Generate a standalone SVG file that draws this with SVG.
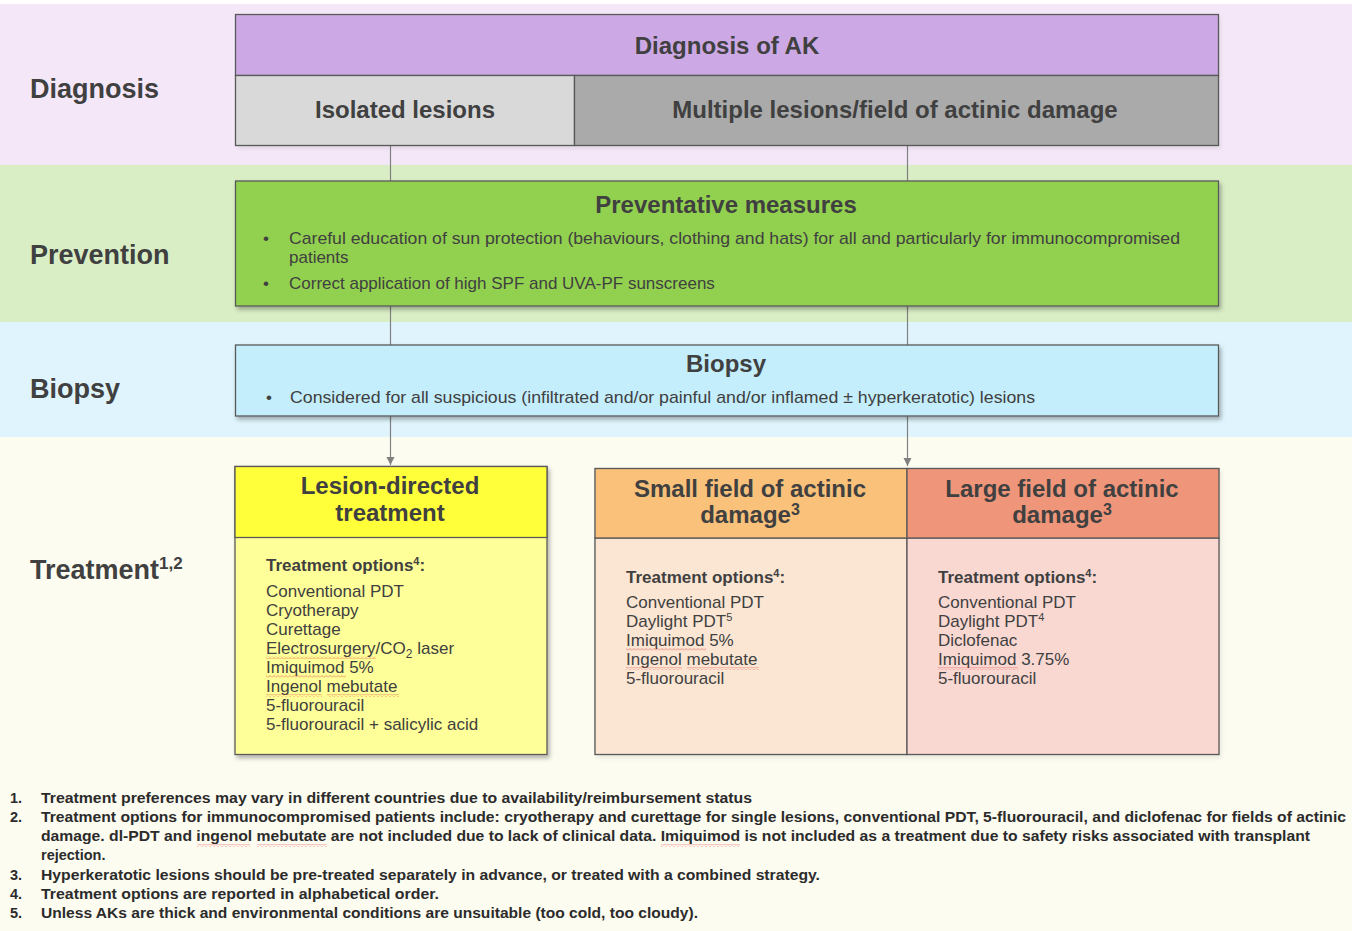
<svg xmlns="http://www.w3.org/2000/svg" width="1352" height="931" viewBox="0 0 1352 931">
<defs>
<style>
text{font-family:"Liberation Sans",Arial,sans-serif;fill:#404040}
.lbl{font-weight:bold;font-size:27px}
.hdr{font-weight:bold;font-size:24px;text-anchor:middle}
.body{font-size:17px}
.b{font-weight:bold}
.fn{font-size:14.5px;font-weight:bold;fill:#2b2b2b}
.box{stroke:#595959;stroke-width:1.3}
.conn{stroke:#808080;stroke-width:1.2;fill:none}
.sq{fill:url(#squig)}
</style>
<filter id="sh" x="-5%" y="-10%" width="110%" height="130%">
<feDropShadow dx="2" dy="3" stdDeviation="2" flood-color="#000" flood-opacity="0.3"/>
</filter>
<marker id="arrow" markerWidth="8" markerHeight="9" refX="8" refY="4" orient="auto" markerUnits="userSpaceOnUse">
<path d="M0,0 L8,4 L0,8 Z" fill="#808080"/>
</marker>
<pattern id="squig" width="4" height="3" patternUnits="userSpaceOnUse">
<path d="M0,2.5 L2,0.5 L4,2.5" stroke="#e04040" stroke-width="0.7" fill="none" opacity="0.8"/>
</pattern>
</defs>

<!-- bands -->
<g id="bands">
<rect x="0" y="0" width="1352" height="931" fill="#ffffff"/>
<rect x="0" y="4" width="1352" height="161" fill="#f4e8f8"/>
<rect x="0" y="165" width="1352" height="157" fill="#d9eec5"/>
<rect x="0" y="322" width="1352" height="115" fill="#dff4fc"/>
<rect x="0" y="437" width="1352" height="494" fill="#fdfcf1"/>
</g>

<g id="row-labels">
<text class="lbl" x="30" y="98">Diagnosis</text>
<text class="lbl" x="30" y="264">Prevention</text>
<text class="lbl" x="30" y="398">Biopsy</text>
<text class="lbl" x="30" y="579">Treatment<tspan font-size="17" dy="-10">1,2</tspan></text>
</g>

<!-- connectors -->
<g id="connectors">
<line class="conn" x1="390.5" y1="145" x2="390.5" y2="181"/>
<line class="conn" x1="907.5" y1="145" x2="907.5" y2="181"/>
<line class="conn" x1="390.5" y1="306" x2="390.5" y2="345"/>
<line class="conn" x1="907.5" y1="306" x2="907.5" y2="345"/>
<line class="conn" x1="390.5" y1="416" x2="390.5" y2="465" marker-end="url(#arrow)"/>
<line class="conn" x1="907.5" y1="416" x2="907.5" y2="466" marker-end="url(#arrow)"/>
</g>

<g id="diagnosis">
<rect x="235.5" y="14.5" width="983" height="131" fill="#000" filter="url(#sh)" opacity="0.25"/>
<rect class="box" x="235.5" y="14.5" width="983" height="61" fill="#cca9e4"/>
<text class="hdr" x="727" y="54">Diagnosis of AK</text>
</g>
<g id="isolated">
<rect class="box" x="235.5" y="75.5" width="339" height="70" fill="#d9d9d9"/>
<text class="hdr" x="405" y="118">Isolated lesions</text>
</g>
<g id="multiple">
<rect class="box" x="574.5" y="75.5" width="644" height="70" fill="#aaaaaa"/>
<text class="hdr" x="895" y="118">Multiple lesions/field of actinic damage</text>
</g>

<g id="prevention">
<rect class="box" x="235.5" y="181" width="983" height="125" fill="#92d050" filter="url(#sh)"/>
<text class="hdr" x="726" y="213" font-size="23.5">Preventative measures</text>
<text class="body" x="263" y="244">•</text>
<text class="body" x="289" y="244" textLength="891" lengthAdjust="spacingAndGlyphs">Careful education of sun protection (behaviours, clothing and hats) for all and particularly for immunocompromised</text>
<text class="body" x="289" y="263">patients</text>
<text class="body" x="263" y="289">•</text>
<text class="body" x="289" y="289">Correct application of high SPF and UVA-PF sunscreens</text>
</g>

<g id="biopsy">
<rect class="box" x="235.5" y="345" width="983" height="71" fill="#c4eefc" filter="url(#sh)"/>
<text class="hdr" x="726" y="372" font-size="23.5">Biopsy</text>
<text class="body" x="266" y="403">•</text>
<text class="body" x="290" y="403" textLength="745" lengthAdjust="spacingAndGlyphs">Considered for all suspicious (infiltrated and/or painful and/or inflamed ± hyperkeratotic) lesions</text>
</g>

<g id="lesion-directed">
<rect class="box" x="235" y="466.5" width="312" height="288" fill="#ffff99" filter="url(#sh)"/>
<rect class="box" x="235" y="466.5" width="312" height="71" fill="#ffff3a"/>
<text class="hdr" x="390" y="494">Lesion-directed</text>
<text class="hdr" x="390" y="521">treatment</text>
<text class="body b" x="266" y="571">Treatment options<tspan font-size="11" dy="-6">4</tspan><tspan dy="6">:</tspan></text>
<text class="body" x="266" y="597">Conventional PDT</text>
<text class="body" x="266" y="616">Cryotherapy</text>
<text class="body" x="266" y="635">Curettage</text>
<text class="body" x="266" y="654">Electrosurgery/CO<tspan font-size="12" dy="4">2</tspan><tspan dy="-4"> laser</tspan></text>
<text class="body" x="266" y="673">Imiquimod 5%</text>
<text class="body" x="266" y="692">Ingenol mebutate</text>
<text class="body" x="266" y="711">5-fluorouracil</text>
<text class="body" x="266" y="730">5-fluorouracil + salicylic acid</text>
<rect class="sq" x="266" y="656" width="110" height="3"/>
<rect class="sq" x="266" y="675" width="80" height="3"/>
<rect class="sq" x="266" y="694" width="56" height="3"/>
<rect class="sq" x="327" y="694" width="72" height="3"/>
</g>

<g id="small-field">
<rect class="box" x="595" y="468.5" width="624" height="286" fill="#000" filter="url(#sh)" opacity="0.25"/>
<rect class="box" x="595" y="538" width="312" height="216.5" fill="#fbe6d3"/>
<rect class="box" x="595" y="468.5" width="312" height="69.5" fill="#fac17b"/>
<text class="hdr" x="750" y="497">Small field of actinic</text>
<text class="hdr" x="750" y="523">damage<tspan font-size="16" dy="-8">3</tspan></text>
<text class="body b" x="626" y="583">Treatment options<tspan font-size="11" dy="-6">4</tspan><tspan dy="6">:</tspan></text>
<text class="body" x="626" y="608">Conventional PDT</text>
<text class="body" x="626" y="627">Daylight PDT<tspan font-size="11" dy="-6">5</tspan></text>
<text class="body" x="626" y="646">Imiquimod 5%</text>
<text class="body" x="626" y="665">Ingenol mebutate</text>
<text class="body" x="626" y="684">5-fluorouracil</text>
<rect class="sq" x="626" y="648" width="80" height="3"/>
<rect class="sq" x="626" y="667" width="56" height="3"/>
<rect class="sq" x="687" y="667" width="72" height="3"/>
</g>

<g id="large-field">
<rect class="box" x="907" y="538" width="312" height="216.5" fill="#f9d8d2"/>
<rect class="box" x="907" y="468.5" width="312" height="69.5" fill="#ef967a"/>
<text class="hdr" x="1062" y="497">Large field of actinic</text>
<text class="hdr" x="1062" y="523">damage<tspan font-size="16" dy="-8">3</tspan></text>
<text class="body b" x="938" y="583">Treatment options<tspan font-size="11" dy="-6">4</tspan><tspan dy="6">:</tspan></text>
<text class="body" x="938" y="608">Conventional PDT</text>
<text class="body" x="938" y="627">Daylight PDT<tspan font-size="11" dy="-6">4</tspan></text>
<text class="body" x="938" y="646">Diclofenac</text>
<text class="body" x="938" y="665">Imiquimod 3.75%</text>
<text class="body" x="938" y="684">5-fluorouracil</text>
<rect class="sq" x="938" y="667" width="80" height="3"/>
</g>

<g id="footnotes">
<text class="fn" x="10" y="803">1.</text>
<text class="fn" x="41" y="803" textLength="711" lengthAdjust="spacingAndGlyphs">Treatment preferences may vary in different countries due to availability/reimbursement status</text>
<text class="fn" x="10" y="822">2.</text>
<text class="fn" x="41" y="822" textLength="1305" lengthAdjust="spacingAndGlyphs">Treatment options for immunocompromised patients include: cryotherapy and curettage for single lesions, conventional PDT, 5-fluorouracil, and diclofenac for fields of actinic</text>
<text class="fn" x="41" y="841" textLength="1269" lengthAdjust="spacingAndGlyphs">damage. dl-PDT and ingenol mebutate are not included due to lack of clinical data. Imiquimod is not included as a treatment due to safety risks associated with transplant</text>
<text class="fn" x="41" y="860">rejection.</text>
<text class="fn" x="10" y="880">3.</text>
<text class="fn" x="41" y="880" textLength="779" lengthAdjust="spacingAndGlyphs">Hyperkeratotic lesions should be pre-treated separately in advance, or treated with a combined strategy.</text>
<text class="fn" x="10" y="899">4.</text>
<text class="fn" x="41" y="899" textLength="398" lengthAdjust="spacingAndGlyphs">Treatment options are reported in alphabetical order.</text>
<text class="fn" x="10" y="918">5.</text>
<text class="fn" x="41" y="918" textLength="657" lengthAdjust="spacingAndGlyphs">Unless AKs are thick and environmental conditions are unsuitable (too cold, too cloudy).</text>
<rect class="sq" x="197" y="844" width="53" height="3"/>
<rect class="sq" x="257" y="844" width="70" height="3"/>
<rect class="sq" x="661" y="844" width="79" height="3"/>
</g>
</svg>
